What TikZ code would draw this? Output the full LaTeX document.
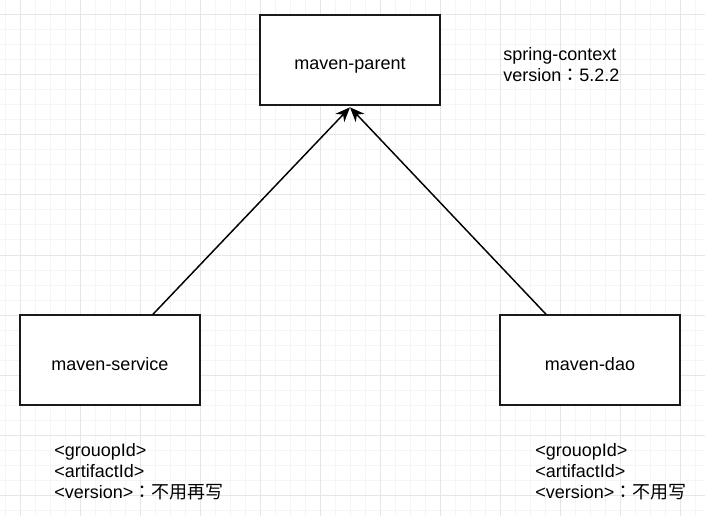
\documentclass[tikz,border=0pt]{standalone}
\usepackage{fontspec}
\setmainfont{Liberation Sans}
\newfontfamily\cjk{Noto Sans CJK SC}
\newfontfamily\cjktc{Noto Sans CJK TC}
\usetikzlibrary{arrows.meta}
\definecolor{gridmajor}{HTML}{E6E6E6}
\definecolor{gridminor}{HTML}{F5F5F5}
\definecolor{boxline}{HTML}{1A1A1A}
\newcommand{\fwcolon}{{\cjktc ：}}
\begin{document}
\begin{tikzpicture}[x=0.75pt,y=-0.75pt,
  box/.style={draw=boxline, fill=white, line width=1.1pt, minimum width=135pt, minimum height=67.5pt, inner sep=0pt, text height=15pt, text depth=0pt, font=\fontsize{13.5pt}{16pt}\selectfont},
  lbl/.style={anchor=west, align=left, inner sep=0pt, font=\fontsize{13.5pt}{15.75pt}\selectfont},
  arr/.style={draw=black, line width=1.1pt, -{Stealth[length=11pt,width=9pt,inset=3.5pt]}},
  minorg/.style={draw=gridminor, line width=0.75pt},
  majorg/.style={draw=gridmajor, line width=0.75pt}]
\useasboundingbox[fill=white] (0,0) rectangle (705,516);
% grid
\foreach \x in {5,20,...,700} \draw[minorg] (\x,0) -- (\x,516);
\foreach \y in {0,15,...,515} \draw[minorg] (0,\y) -- (705,\y);
\foreach \x in {20,80,...,680} \draw[majorg] (\x,0) -- (\x,516);
\foreach \y in {15,75,...,495} \draw[majorg] (0,\y) -- (705,\y);
% boxes
\node[box] (parent) at (350,60) {maven-parent};
\node[box] (service) at (110,360) {maven-service};
\node[box] (dao) at (590,360) {maven-dao};
% arrows
\draw[arr] ([xshift=32.25pt]service.north) -- ([yshift=-1.2pt]parent.south);
\draw[arr] ([xshift=-33pt]dao.north) -- ([yshift=-1.2pt]parent.south);
% labels
\node[lbl] (ctx) at (503,65) {spring-context\\version\fwcolon 5.2.2};
\node[lbl] (svcnote) at (54,472) {<grouopId>\\<artifactId>\\<version>\fwcolon{\cjk 不用再写}};
\node[lbl] (daonote) at (535,472) {<grouopId>\\<artifactId>\\<version>\fwcolon{\cjk 不用写}};
\end{tikzpicture}
\end{document}
